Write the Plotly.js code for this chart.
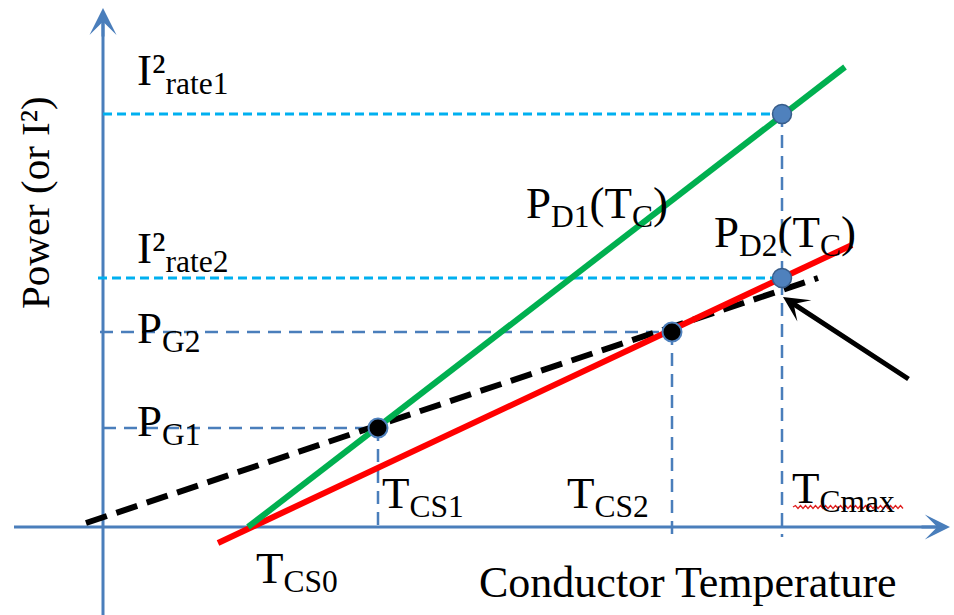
<!DOCTYPE html>
<html>
<head>
<meta charset="utf-8">
<script src="https://cdn.plot.ly/plotly-3.0.1.min.js"></script>
<style>
  html, body { margin: 0; padding: 0; background: #ffffff; }
  #chart { width: 954px; height: 615px; }
</style>
</head>
<body>
<div id="chart"></div>
<script>
// Characteristic conductor temperatures
const T_CS0 = 14.5;
const T_CS1 = 27.5;
const T_CS2 = 56.9;
const T_CMAX = 67.9;

// Characteristic power levels
const P_G1 = 9.9;
const P_G2 = 19.5;
const I2_RATE2 = 24.9;
const I2_RATE1 = 41.3;

// Dissipation lines P_D1(T_C) and P_D2(T_C)
const pd1T = [T_CS0, 74.2];
const pd1P = [0, 46.0];
const pd2T = [11.5, 74.9];
const pd2P = [-1.6, 28.2];

// Heat generation line (dashed)
const pgT = [-1.7, 71.5];
const pgP = [0.4, 24.9];

// Steady-state intersection points
const opT = [T_CS1, T_CS2];
const opP = [P_G1, P_G2];

// Rating points at maximum temperature
const rateT = [T_CMAX, T_CMAX];
const rateP = [I2_RATE1, I2_RATE2];

// Axis extents
const xAxisSpan = [-8.9, 84.7];
const yAxisSpan = [-8.8, 51.9];

const SERIF = 'Liberation Serif, Times New Roman, serif';
const AXIS_BLUE = '#4a7ebb';
const LIGHT_BLUE = '#00b0f0';

// Light-blue guide lines for the current ratings
const rateGuide = {
  x: [0, T_CMAX, null, -0.5, T_CMAX],
  y: [I2_RATE1, I2_RATE1, null, I2_RATE2, I2_RATE2],
  mode: 'lines', hoverinfo: 'skip', connectgaps: false,
  line: { color: LIGHT_BLUE, width: 3, dash: '9px,5px' }
};

// Blue guide lines from the intersections to the axes
const opGuide = {
  x: [-0.3, T_CS2, null, 0, T_CS1, null, T_CS1, T_CS1, null, T_CS2, T_CS2, null, T_CMAX, T_CMAX],
  y: [P_G2, P_G2, null, P_G1, P_G1, null, P_G1, 0, null, P_G2, -1.2, null, I2_RATE1, -1.0],
  mode: 'lines', hoverinfo: 'skip', connectgaps: false,
  line: { color: AXIS_BLUE, width: 2.5, dash: '13px,8px' }
};

const pgLine = {
  x: pgT, y: pgP, mode: 'lines', hoverinfo: 'skip',
  line: { color: '#000000', width: 6, dash: '22px,10px' }
};

const pd2Line = {
  x: pd2T, y: pd2P, mode: 'lines', hoverinfo: 'skip',
  line: { color: '#ff0000', width: 6 }
};

const pd1Line = {
  x: pd1T, y: pd1P, mode: 'lines', hoverinfo: 'skip',
  line: { color: '#00b050', width: 6 }
};

const opPoints = {
  x: opT, y: opP, mode: 'markers', hoverinfo: 'skip',
  marker: { size: 19, color: '#000000', line: { color: '#4f81bd', width: 2 } }
};

const ratePoints = {
  x: rateT, y: rateP, mode: 'markers', hoverinfo: 'skip',
  marker: { size: 19, color: '#4f81bd', line: { color: '#385d8a', width: 1.5 } }
};

// Text labels
function label(text, x, y, size, extra) {
  return Object.assign({
    text: text, x: x, y: y, xref: 'x', yref: 'y',
    xanchor: 'left', yanchor: 'middle', showarrow: false,
    font: { family: SERIF, size: size, color: '#000000' }
  }, extra || {});
}

const annotations = [
  label('I²<sub>rate1</sub>', 3.2, 45.4, 45),
  label('I²<sub>rate2</sub>', 3.2, 27.6, 45),
  label('P<sub>G2</sub>', 3.2, 19.59, 45),
  label('P<sub>G1</sub>', 3.2, 10.3, 45),
  label('P<sub>D1</sub>(T<sub>C</sub>)', 42.1, 32.09, 45),
  label('P<sub>D2</sub>(T<sub>C</sub>)', 60.9, 29.19, 45),
  label('T<sub>CS1</sub>', 27.7, 3.09, 45),
  label('T<sub>CS0</sub>', 15.1, -4.41, 45),
  label('T<sub>CS2</sub>', 46.2, 3.09, 45),
  label('T<sub>Cmax</sub>', 68.7, 3.59, 45),
  label('Conductor Temperature', 37.4, -5.51, 44),
  label('Power (or I²)', -6.8, 32.4, 41, { xanchor: 'center', textangle: -90 }),
  // Axis arrowheads
  {
    x: xAxisSpan[1], y: 0, ax: xAxisSpan[1] - 3, ay: 0, xref: 'x', yref: 'y', axref: 'x', ayref: 'y',
    text: '', showarrow: true, arrowhead: 3, arrowsize: 1.4, arrowwidth: 3, arrowcolor: AXIS_BLUE
  },
  {
    x: 0, y: yAxisSpan[1], ax: 0, ay: yAxisSpan[1] - 3, xref: 'x', yref: 'y', axref: 'x', ayref: 'y',
    text: '', showarrow: true, arrowhead: 3, arrowsize: 1.5, arrowwidth: 3, arrowcolor: AXIS_BLUE
  },
  // Pointer to the gap between the generation line and P_D2 at T_Cmax
  {
    x: 68.0, y: 23.0, ax: 80.7, ay: 14.7, xref: 'x', yref: 'y', axref: 'x', ayref: 'y',
    text: '', showarrow: true, arrowhead: 3, arrowsize: 0.85, arrowwidth: 5, arrowcolor: '#000000'
  }
];

// Red wavy underline beneath the "Cmax" subscript
let squiggle = 'M 69.0 2.0';
for (let i = 1; i <= 44; i++) {
  const xs = 69.0 + i * 0.25;
  const ys = (i % 2 === 1) ? 2.15 : 1.85;
  squiggle += ' L ' + xs.toFixed(2) + ' ' + ys.toFixed(2);
}

const shapes = [
  { type: 'line', layer: 'below', xref: 'x', yref: 'y', x0: xAxisSpan[0], x1: xAxisSpan[1] - 0.5, y0: 0, y1: 0,
    line: { color: AXIS_BLUE, width: 3 } },
  { type: 'line', layer: 'below', xref: 'x', yref: 'y', x0: 0, x1: 0, y0: yAxisSpan[0], y1: yAxisSpan[1] - 0.5,
    line: { color: AXIS_BLUE, width: 3 } },
  { type: 'path', xref: 'x', yref: 'y', path: squiggle, line: { color: '#e02020', width: 1.3 } }
];

const layout = {
  width: 954, height: 615,
  margin: { l: 0, r: 0, t: 0, b: 0 },
  paper_bgcolor: '#ffffff', plot_bgcolor: '#ffffff',
  showlegend: false,
  xaxis: { range: [-10.3, 85.1], visible: false, fixedrange: true },
  yaxis: { range: [-8.8, 52.7], visible: false, fixedrange: true },
  annotations: annotations,
  shapes: shapes
};

Plotly.newPlot('chart',
  [rateGuide, opGuide, pgLine, pd2Line, pd1Line, opPoints, ratePoints],
  layout, { staticPlot: true, displayModeBar: false });
</script>
</body>
</html>
